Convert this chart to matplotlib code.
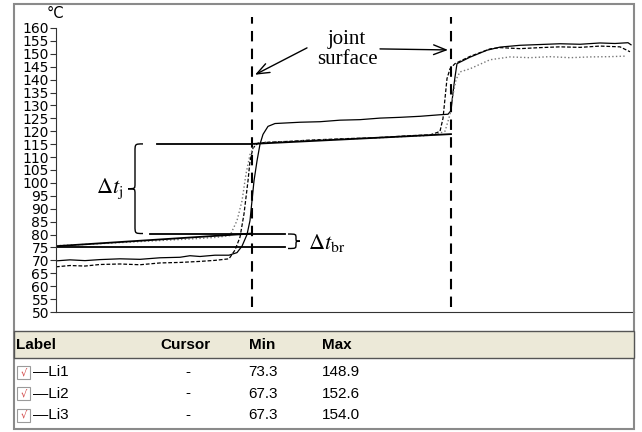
import matplotlib.pyplot as plt
from matplotlib.patches import Rectangle, PathPatch
from matplotlib.path import Path

# time in arbitrary units (no x labels in the original)
t_li3 = [0, 7, 14.5, 22, 32, 42, 52, 62, 67, 72, 79.5, 86.5, 90.5, 93, 95.5, 97, 99, 100.5,
         102, 103.5, 106, 109.5, 114.5, 122, 132, 142, 152, 162, 172, 182, 192, 196, 197.5,
         198.5, 199.5, 200.5, 207, 215.5, 222, 232, 242, 252, 262, 272, 279.5, 286, 287.5]
li3 = [69.8, 70.2, 69.9, 70.3, 70.6, 70.4, 71.0, 71.2, 71.8, 71.5, 72.0, 72.0, 73.0, 75.5,
       80.0, 85.4, 100.8, 108.5, 115.0, 118.8, 121.9, 123.0, 123.2, 123.5, 123.7, 124.3,
       124.5, 125.1, 125.4, 125.8, 126.4, 126.6, 128.0, 135.0, 141.0, 146.2, 148.7, 151.4,
       152.6, 153.3, 153.6, 153.9, 153.7, 154.2, 154.0, 154.3, 153.5]

t_li2 = [0, 7, 14.5, 22, 32, 42, 52, 62, 72, 79.5, 86.5, 89.5, 92, 94, 96, 97, 98.5, 101,
         107, 117, 127, 137, 147, 157, 167, 177, 187, 190.5, 192, 193.5, 194.5, 195.5, 197,
         199.5, 207, 217, 222, 232, 242, 252, 262, 272, 282, 287]
li2 = [67.5, 68.0, 67.8, 68.4, 68.6, 68.3, 69.0, 69.2, 69.6, 70.0, 70.6, 74.0, 79.0, 88.0,
       100.8, 108.5, 113.5, 115.4, 115.8, 116.1, 116.6, 116.9, 117.2, 117.4, 117.8, 118.3,
       118.6, 119.5, 120.0, 125.0, 132.7, 140.4, 144.2, 146.2, 149.0, 151.9, 152.4, 152.0,
       152.4, 152.7, 152.5, 153.0, 152.7, 150.8]

t_li1 = [0, 10, 20, 30, 40, 50, 60, 70, 80, 87, 90.5, 93, 95, 97, 99.5, 104.5, 114.5, 124.5,
         134.5, 144.5, 154.5, 164.5, 174.5, 184.5, 190, 194.5, 197, 198.5, 200, 202, 207, 217,
         227, 237, 247, 257, 267, 277, 284.5]
li1 = [75.7, 76.0, 76.4, 76.8, 77.2, 77.6, 78.0, 78.4, 78.9, 79.6, 85.4, 93.0, 103.5, 111.0,
       115.0, 115.8, 116.0, 116.4, 116.7, 117.0, 117.3, 117.6, 118.0, 118.3, 118.8, 120.0,
       126.5, 134.2, 140.0, 143.0, 144.2, 147.7, 148.8, 148.5, 148.9, 148.5, 148.8, 148.9,
       149.1]

# construction lines: (t0, T0, t1, T1)
fit_lines = [(0, 75.5, 98, 80.4), (47, 80.4, 114.5, 80.4), (0, 75.0, 114.5, 75.0),
             (50.5, 115.1, 98, 115.1), (98, 115.1, 197.5, 118.9)]
joint_t = [98, 197.5]

labels = ["Li1", "Li2", "Li3"]
mins = ["73.3", "67.3", "67.3"]
maxs = ["148.9", "152.6", "154.0"]

W, H = 642, 432
fig = plt.figure(figsize=(W / 100, H / 100), dpi=100)


def fx(x):
    return x / W


def fy(y):
    return 1 - y / H


ax = fig.add_axes([fx(56), fy(312), (634 - 56) / W, (312 - 10) / H])
ax.set_xlim(0, 289)
ax.set_ylim(50, 160 + 18 / 2.582)

ax.plot(t_li3, li3, color="black", lw=0.9)
ax.plot(t_li2, li2, color="black", lw=0.9, dashes=(3, 1.5))
ax.plot(t_li1, li1, color="#777777", lw=1.0, linestyle=":")

for t0, a, t1, b in fit_lines:
    ax.plot([t0, t1], [a, b], color="black", lw=1.3)

for t in joint_t:
    ax.plot([t, t], [51.8, 164.2], color="black", lw=1.5, dashes=(5, 3.5))


def brace(xe, xs, xt, y0, y1, r, rt):
    ym = (y0 + y1) / 2
    verts = [(xe, y1), (xs, y1), (xs, y1), (xs, y1 - r),
             (xs, ym + rt),
             (xs, ym), (xs, ym), (xt, ym),
             (xs, ym), (xs, ym), (xs, ym - rt),
             (xs, y0 + r),
             (xs, y0), (xs, y0), (xe, y0)]
    codes = [Path.MOVETO, Path.CURVE4, Path.CURVE4, Path.CURVE4, Path.LINETO,
             Path.CURVE4, Path.CURVE4, Path.CURVE4, Path.CURVE4, Path.CURVE4, Path.CURVE4,
             Path.LINETO, Path.CURVE4, Path.CURVE4, Path.CURVE4]
    ax.add_patch(PathPatch(Path(verts, codes), fill=False, lw=1.0, color="black"))


brace(43.5, 39.5, 36, 80.4, 115.1, 3.0, 2.0)
brace(116, 120, 122, 74.6, 80.2, 1.6, 1.2)

ax.text(27, 97.7, r"$\Delta t_\mathrm{j}$", fontsize=16, ha="center", va="center",
        math_fontfamily="stix")
ax.text(126, 76.8, r"$\Delta t_\mathrm{br}$", fontsize=16, ha="left", va="center",
        math_fontfamily="stix")

ax.text(145.5, 151.6, "joint\nsurface", fontsize=15, ha="center", va="center",
        family="Liberation Serif", linespacing=1.1)
arrow = dict(arrowstyle="->,head_length=0.9,head_width=0.35", color="black", lw=1.0,
             shrinkA=0, shrinkB=0)
ax.annotate("", xy=(99.5, 141.9), xytext=(125.5, 152.3), arrowprops=arrow)
ax.annotate("", xy=(196, 151.5), xytext=(162, 151.9), arrowprops=arrow)

for s in ["top", "right"]:
    ax.spines[s].set_visible(False)
ax.spines["left"].set_bounds(50, 160)
ax.spines["left"].set_color("#333333")
ax.spines["bottom"].set_color("#333333")
ax.set_xticks([])
ax.set_yticks(range(50, 161, 5))
ax.tick_params(axis="y", length=4, width=0.8, labelsize=10, pad=1, color="#333333")
fig.text(fx(55), fy(14), "°C", ha="center", va="center", fontsize=10.5)

# outer frame and table
fig.patches.append(Rectangle((fx(14), fy(429)), (634 - 14) / W, (429 - 4) / H,
                             transform=fig.transFigure, fill=False, ec="#8a8a8a", lw=1.5))
fig.patches.append(Rectangle((fx(14), fy(358)), (634 - 14) / W, (358 - 331) / H,
                             transform=fig.transFigure, fc="#ECE9D8", ec="#555555", lw=1.0))

hdr = dict(fontsize=11, fontweight="bold", family="Liberation Sans", va="center")
fig.text(fx(16), fy(345), "Label", ha="left", **hdr)
fig.text(fx(160), fy(345), "Cursor", ha="left", **hdr)
fig.text(fx(249), fy(345), "Min", ha="left", **hdr)
fig.text(fx(322), fy(345), "Max", ha="left", **hdr)

row = dict(fontsize=11, family="Liberation Sans", va="center")
for i, (lab, mn, mx) in enumerate(zip(labels, mins, maxs)):
    y = 372 + i * 21.5
    fig.patches.append(Rectangle((fx(17), fy(y + 6.5)), 13 / W, 13 / H,
                                 transform=fig.transFigure, fc="white", ec="#9a9a9a", lw=0.8))
    fig.text(fx(23.5), fy(y), "√", ha="center", va="center", fontsize=7, color="#d04040")
    fig.text(fx(33), fy(y), "—" + lab, ha="left", **row)
    fig.text(fx(188), fy(y), "-", ha="center", **row)
    fig.text(fx(248), fy(y), mn, ha="left", **row)
    fig.text(fx(322), fy(y), mx, ha="left", **row)

fig.savefig("out.png", dpi=100)
